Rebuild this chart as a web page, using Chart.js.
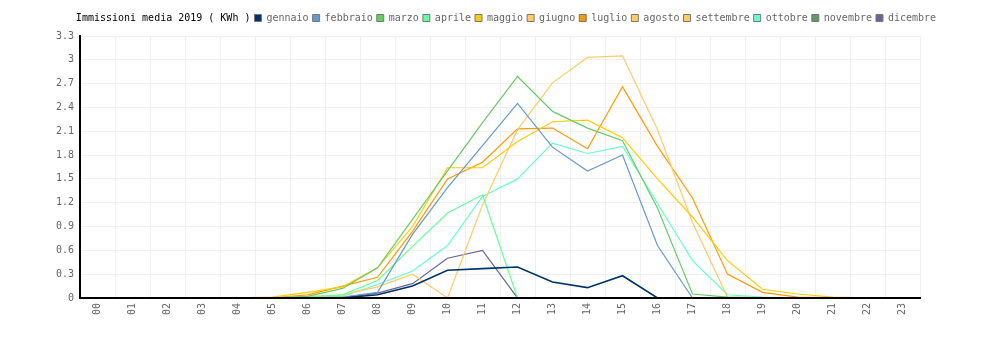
<!DOCTYPE html>
<html>
<head>
<meta charset="utf-8">
<script src="https://cdn.jsdelivr.net/npm/chart.js@4"></script>
<style>
  html, body { margin: 0; padding: 0; background: #fff; }
  #wrap { width: 1000px; height: 340px; }
</style>
</head>
<body>
<div id="wrap"><canvas id="chart" width="1000" height="340"></canvas></div>
<script>
const titleText = 'Immissioni media 2019 ( KWh )';

const hours = ['00','01','02','03','04','05','06','07','08','09','10','11',
               '12','13','14','15','16','17','18','19','20','21','22','23'];

// values per hour
const gennaio   = [0,0,0,0,0,0,0,0,0.04,0.15,0.35,0.37,0.39,0.2,0.13,0.28,0,0,0,0,0,0,0,0];
const febbraio  = [0,0,0,0,0,0,0,0.01,0.07,0.8,1.39,1.92,2.45,1.9,1.6,1.8,0.66,0,0,0,0,0,0,0];
const marzo     = [0,0,0,0,0,0,0.02,0.12,0.38,0.99,1.6,2.21,2.79,2.35,2.14,1.98,1.13,0.05,0.01,0,0,0,0,0];
const aprile    = [0,0,0,0,0,0,0.01,0.04,0.22,0.65,1.07,1.3,0,0,0,0,0,0,0,0,0,0,0,0];
const maggio    = [0,0,0,0,0,0.01,0.07,0.14,0.38,0.9,1.64,1.64,1.97,2.22,2.24,2.02,1.5,1.02,0.47,0.11,0.05,0.01,0,0];
const giugno    = [0,0,0,0,0,0,0.02,0.04,0.14,0.3,0,1.17,2.12,2.71,3.03,3.05,2.12,0.95,0.01,0,0,0,0,0];
const luglio    = [0,0,0,0,0,0,0.04,0.15,0.26,0.84,1.5,1.71,2.13,2.14,1.88,2.66,1.91,1.26,0.3,0.07,0.01,0,0,0];
const agosto    = [0,0,0,0,0,0,0,0,0,0,0,0,0,0,0,0,0,0,0,0,0,0,0,0];
const settembre = [0,0,0,0,0,0,0,0,0,0,0,0,0,0,0,0,0,0,0,0,0,0,0,0];
const ottobre   = [0,0,0,0,0,0,0,0.02,0.17,0.34,0.66,1.28,1.5,1.95,1.82,1.91,1.19,0.47,0.04,0.01,0,0,0,0];
const novembre  = [0,0,0,0,0,0,0,0,0,0,0,0,0,0,0,0,0,0,0,0,0,0,0,0];
const dicembre  = [0,0,0,0,0,0,0,0,0.06,0.18,0.5,0.6,0,0,0,0,0,0,0,0,0,0,0,0];

const months = ['gennaio','febbraio','marzo','aprile','maggio','giugno',
                'luglio','agosto','settembre','ottobre','novembre','dicembre'];
const series = [gennaio, febbraio, marzo, aprile, maggio, giugno,
                luglio, agosto, settembre, ottobre, novembre, dicembre];
const colors = ['#003366','#6699cc','#66cc66','#66ff99','#ffcc00','#ffcc66',
                '#ff9900','#ffcc66','#ffcc66','#66ffcc','#669966','#666699'];

const font = { family: "'DejaVu Sans Mono', monospace", size: 10 };

const datasets = months.map((m, i) => ({
  label: m,
  data: series[i],
  borderColor: colors[i],
  backgroundColor: colors[i],
  borderWidth: i === 0 ? 1.6 : 1.2,
  pointRadius: 0,
  tension: 0,
  fill: false,
  yAxisID: 'y'
}));

// a bit more room under the legend
const legendGap = {
  id: 'legendGap',
  beforeInit(chart) {
    const fit = chart.legend.fit;
    chart.legend.fit = function () {
      fit.call(this);
      this.height += 3;
    };
  }
};

new Chart(document.getElementById('chart'), {
  type: 'line',
  data: { labels: hours, datasets: datasets },
  plugins: [legendGap],
  options: {
    responsive: false,
    animation: false,
    layout: { padding: { left: 0, right: 0, top: 9, bottom: 20 } },
    plugins: {
      tooltip: { enabled: false },
      legend: {
        position: 'top',
        labels: {
          font: font,
          boxWidth: 7,
          boxHeight: 7,
          padding: 4,
          generateLabels: chart => {
            const items = Chart.defaults.plugins.legend.labels.generateLabels(chart);
            items.forEach(it => {
              it.strokeStyle = '#777';
              it.lineWidth = 1;
              it.fontColor = '#666';
            });
            // title sits inline, in front of the month entries
            items.unshift({
              text: titleText,
              fillStyle: 'rgba(0,0,0,0)',
              strokeStyle: 'rgba(0,0,0,0)',
              lineWidth: 0,
              fontColor: '#000',
              hidden: false
            });
            return items;
          }
        }
      }
    },
    scales: {
      x: {
        offset: true,
        grid: { offset: true, color: '#f0f0f0', drawTicks: false },
        border: { color: '#000', width: 2, z: 1 },
        ticks: {
          font: font,
          color: '#666',
          minRotation: 90,
          maxRotation: 90,
          autoSkip: false,
          padding: 5
        }
      },
      y: {
        min: 0,
        max: 3.3,
        grid: { color: '#f0f0f0', drawTicks: false },
        border: { color: '#000', width: 2, z: 1 },
        ticks: {
          font: font,
          color: '#666',
          stepSize: 0.3,
          padding: 6,
          callback: v => String(+v.toFixed(1))
        },
        afterFit: s => { s.width = 80; }
      },
      right: {
        position: 'right',
        grid: { display: false },
        border: { display: false },
        ticks: { display: false },
        afterFit: s => { s.width = 80; }
      }
    }
  }
});
</script>
</body>
</html>
